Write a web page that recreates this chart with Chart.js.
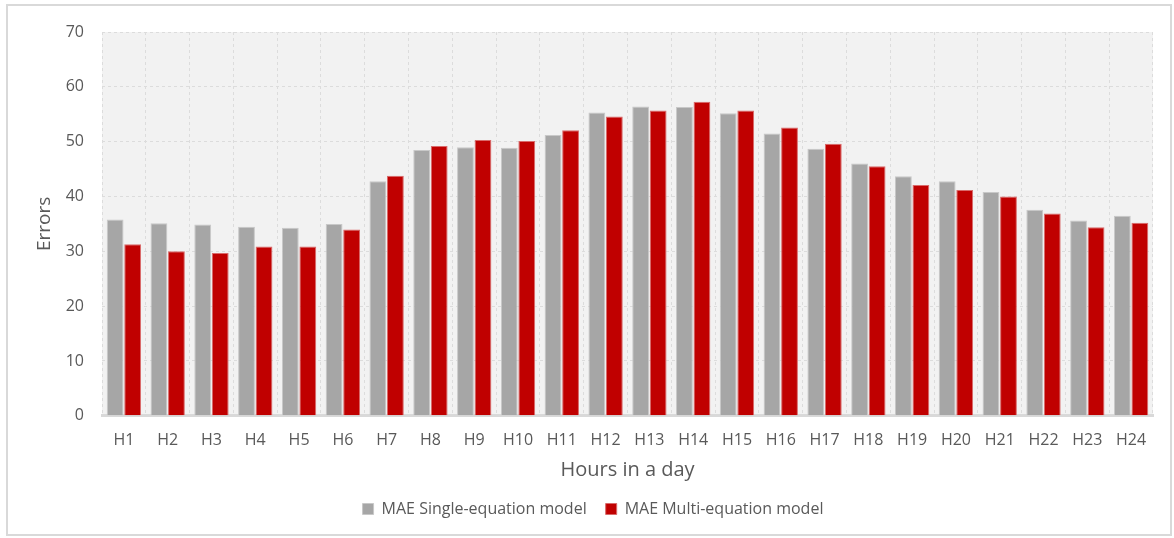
<!DOCTYPE html>
<html>
<head>
<meta charset="utf-8">
<script src="https://cdn.jsdelivr.net/npm/chart.js@4.4.1/dist/chart.umd.min.js"></script>
<style>
    body { margin: 0; background: #fff; }
    #wrap { position: relative; width: 1174px; height: 538px; }
    #frame { position: absolute; left: 6px; top: 4px; width: 1162px; height: 528px; border: 2px solid #d9d9d9; }
    canvas { position: absolute; left: 0; top: 0; }
</style>
</head>
<body>
<div id="wrap">
    <div id="frame"></div>
    <canvas id="chart" width="1174" height="538"></canvas>
</div>
<script>
// ===== DATA =====
const hours = ["H1","H2","H3","H4","H5","H6","H7","H8","H9","H10","H11","H12",
               "H13","H14","H15","H16","H17","H18","H19","H20","H21","H22","H23","H24"];
const maeSingle = [35.8, 35.1, 34.9, 34.5, 34.3, 35.0, 42.8, 48.5, 49.0, 48.9, 51.2, 55.3,
                   56.4, 56.3, 55.2, 51.5, 48.7, 46.0, 43.7, 42.8, 40.8, 37.6, 35.6, 36.5];
const maeMulti = [31.3, 30.0, 29.7, 30.9, 30.9, 34.0, 43.8, 49.2, 50.3, 50.1, 52.1, 54.6,
                  55.7, 57.3, 55.7, 52.6, 49.6, 45.5, 42.1, 41.2, 40.0, 36.9, 34.4, 35.2];
const yTicks = [0, 10, 20, 30, 40, 50, 60, 70];

const textColor = "#595959";
const fontFamily = "'Open Sans', 'Noto Sans', sans-serif";

// grey plot background
const plotBg = {
    id: "plotBg",
    beforeDraw(chart) {
        const { ctx, chartArea: a } = chart;
        ctx.save();
        ctx.fillStyle = "#f2f2f2";
        ctx.fillRect(a.left, a.top, a.right - a.left, a.bottom - a.top);
        ctx.restore();
    }
};

new Chart(document.getElementById("chart"), {
    type: "bar",
    data: {
        labels: hours,
        datasets: [{
            label: "MAE Single-equation model",
            data: maeSingle,
            backgroundColor: "#a6a6a6",
            borderColor: "#c8c8c8",
            borderWidth: 1
        }, {
            label: "MAE Multi-equation model",
            data: maeMulti,
            backgroundColor: "#c00000",
            borderColor: "#d96a6a",
            borderWidth: 1
        }]
    },
    options: {
        responsive: false,
        animation: false,
        datasets: { bar: { categoryPercentage: 0.8, barPercentage: 0.96 } },
        layout: { padding: { left: 33, right: 21, top: 32, bottom: 11 } },
        plugins: {
            legend: {
                position: "bottom",
                labels: {
                    color: textColor,
                    font: { family: fontFamily, size: 16 },
                    boxWidth: 11,
                    boxHeight: 11,
                    padding: 19,
                    useBorderRadius: false
                }
            },
            tooltip: { enabled: false }
        },
        scales: {
            x: {
                afterFit: axis => { axis.height -= 9; },
                grid: { color: "#dcdcdc", drawTicks: false },
                border: { color: "#d9d9d9", width: 3, dash: [3, 3] },
                ticks: { color: textColor, font: { family: fontFamily, size: 16 }, padding: 15, maxRotation: 0 },
                title: {
                    display: true, text: "Hours in a day", color: textColor,
                    font: { family: fontFamily, size: 20 }, padding: { top: 2, bottom: 0 }
                }
            },
            y: {
                min: 0,
                max: 70,
                afterBuildTicks: axis => { axis.ticks = yTicks.map(v => ({ value: v })); },
                afterFit: axis => { axis.width = 69; },
                grid: { color: "#dcdcdc", drawTicks: false },
                border: { display: false, dash: [3, 3] },
                ticks: { color: textColor, font: { family: fontFamily, size: 16 }, padding: 18 },
                title: {
                    display: true, text: "Errors", color: textColor,
                    font: { family: fontFamily, size: 19 }, padding: 0
                }
            }
        }
    },
    plugins: [plotBg]
});
</script>
</body>
</html>
